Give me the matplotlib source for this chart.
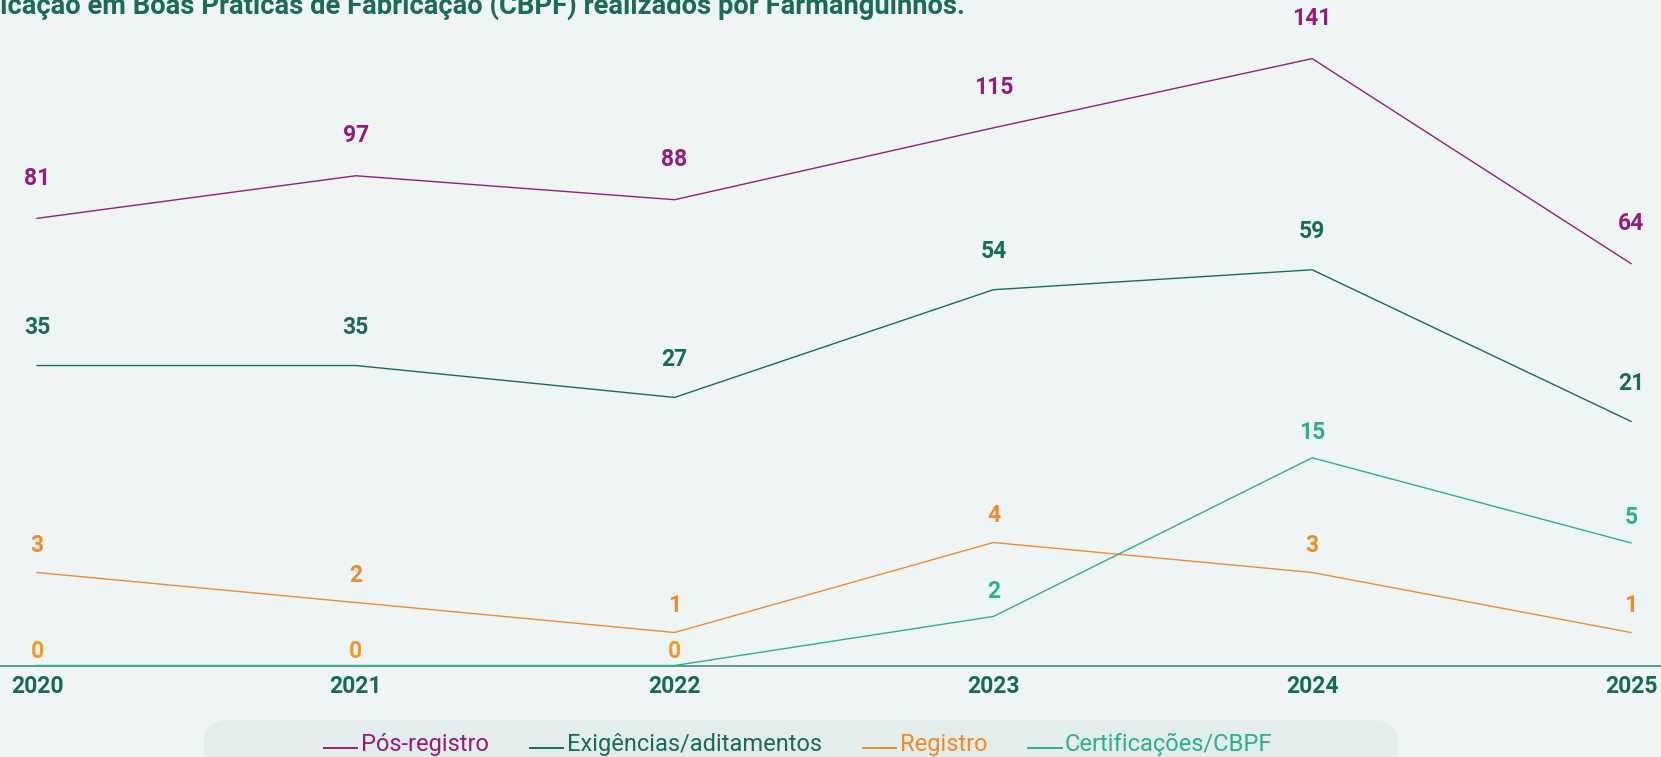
import numpy as np
import matplotlib
matplotlib.use('Agg')
import matplotlib.pyplot as plt
from matplotlib.lines import Line2D
from matplotlib.patches import FancyBboxPatch
from matplotlib.ticker import NullLocator
from matplotlib.legend_handler import HandlerLine2D

# data
years = [2020, 2021, 2022, 2023, 2024, 2025]
pos_registro = [81, 97, 88, 115, 141, 64]
exigencias = [35, 35, 27, 54, 59, 21]
registro = [3, 2, 1, 4, 3, 1]
certificacoes = [0, 0, 0, 2, 15, 5]
series_names = ['Pós-registro', 'Exigências/aditamentos', 'Registro', 'Certificações/CBPF']
title_str = 'Certificação em Boas Práticas de Fabricação (CBPF) realizados por Farmanguinhos.'
hidden_prefix = 'Certif'

# style
bg = '#EFF5F4'
colors = ['#9A1A7C', '#1A6A5A', '#F5892A', '#2BB18E']
zero_color = '#F29B20'
year_color = '#17695A'
num_font = ['Roboto', 'DejaVu Sans']
narrow_font = ['Liberation Sans Narrow', 'Roboto', 'DejaVu Sans']
plt.rcParams['font.family'] = num_font

W, H = 1661, 757
fig = plt.figure(figsize=(W / 100, H / 100), dpi=100, facecolor=bg)
ax = fig.add_axes([37 / W, 91.5 / H, 1594 / W, 625.5 / H])
axes = [ax, ax.twinx(), ax.twinx(), ax.twinx()]

# every series sits on its own hidden vertical scale, like in the original infographic
ylims = [(-87, 148), (-40.2, 116.6), (-0.1, 20.75), (0, 3290)]
label_offsets = [40, 38, 27, 25]
axes[3].set_yscale('symlog', base=np.e, linthresh=5, linscale=1)

all_values = [pos_registro, exigencias, registro, certificacoes]
for a, vals, c, lim, off in zip(axes, all_values, colors, ylims, label_offsets):
    a.set_facecolor('none')
    for s in a.spines.values():
        s.set_visible(False)
    a.set_xlim(2020, 2025)
    a.set_ylim(*lim)
    a.set_yticks([])
    a.yaxis.set_minor_locator(NullLocator())
    a.tick_params(axis='y', which='both', left=False, right=False, labelleft=False, labelright=False)
    a.plot(years, vals, color=c, lw=1.0, clip_on=False, zorder=3)
    for x, v in zip(years, vals):
        lc = c
        dy = off
        if v == 0:
            lc = zero_color
            dy = 14.5
        a.annotate(str(v), (x, v), xytext=(0, dy), textcoords='offset pixels',
                   ha='center', va='center', color=lc, fontsize=16.5,
                   fontweight='bold', annotation_clip=False, zorder=4)

# baseline across the full width
axes[3].axhline(0, xmin=-0.03, xmax=1.03, color='#5E9A90', lw=1.4, clip_on=False, zorder=2)

ax.set_xticks(years)
ax.set_xticklabels([str(y) for y in years])
ax.tick_params(axis='x', length=0, pad=7, labelsize=16.5, labelcolor=year_color)
for lbl in ax.get_xticklabels():
    lbl.set_fontweight('bold')

# title, only its last part is visible at the top edge
title = fig.text(0, (H - 14) / H, title_str, ha='left', va='baseline', fontsize=21,
                 fontweight='bold', color='#1B6B58', family=narrow_font)
r = fig.canvas.get_renderer()
full_w = title.get_window_extent(r).width
tmp = fig.text(0, 0, hidden_prefix, fontsize=21, fontweight='bold', family=narrow_font)
pre_w = tmp.get_window_extent(r).width
tmp.remove()
k = 968 / (full_w - pre_w)
title.set_fontsize(21 * k)
title.set_x(-pre_w * k / W)

# legend strip
box = FancyBboxPatch((204, -40), 1194, 77, boxstyle='round,pad=0,rounding_size=24',
                     transform=None, facecolor='#E3EDEB', edgecolor='none', zorder=0)
fig.add_artist(box)


class BaseHandler(HandlerLine2D):
    def create_artists(self, legend, orig_handle, xdescent, ydescent, width, height, fontsize, trans):
        arts = super().create_artists(legend, orig_handle, xdescent, ydescent, width, height, fontsize, trans)
        for a in arts:
            a.set_ydata(np.zeros_like(a.get_ydata()) + 0.15 * height)
        return arts


handles = [Line2D([], [], color=c, lw=1.4) for c in colors]
leg = fig.legend(handles, series_names, loc='center', bbox_to_anchor=(0.4807, 13 / H),
                 ncol=4, frameon=False,
                 prop={'family': narrow_font, 'size': 17, 'weight': 'normal'},
                 handlelength=1.4, handletextpad=0.15, columnspacing=1.75,
                 handler_map={Line2D: BaseHandler()})
for txt, c in zip(leg.get_texts(), colors):
    txt.set_color(c)

fig.savefig('out.png', dpi=100, facecolor=bg)
